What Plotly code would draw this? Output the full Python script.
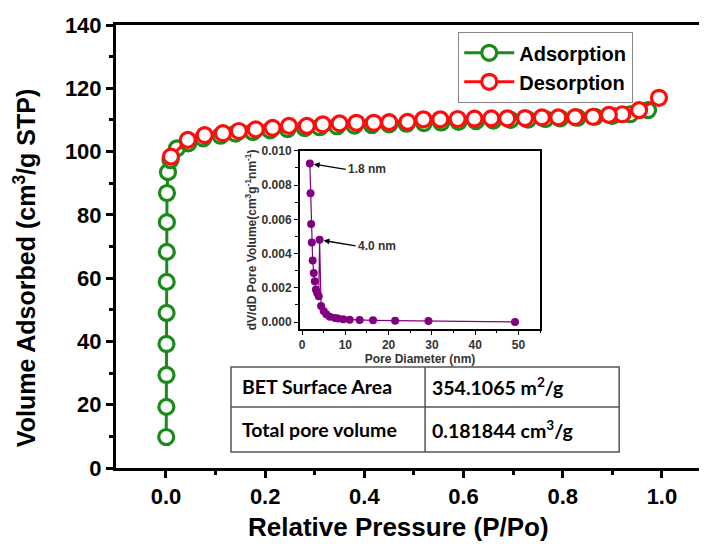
import plotly.graph_objects as go

# ---- main isotherm data ----
ads_x = [0.0005, 0.0008, 0.001, 0.001, 0.0012, 0.0014, 0.0016, 0.0018, 0.002, 0.004, 0.009,
         0.022, 0.045, 0.075, 0.11, 0.14, 0.175, 0.21, 0.245, 0.28, 0.31, 0.345, 0.38, 0.415,
         0.45, 0.485, 0.52, 0.555, 0.59, 0.625, 0.66, 0.695, 0.73, 0.765, 0.795, 0.83, 0.865,
         0.9, 0.936, 0.972]
ads_y = [9.8, 19.3, 29.4, 39.2, 49.0, 58.8, 68.3, 77.7, 86.9, 93.5, 97.3,
         101.0, 102.6, 104.2, 105.0, 105.7, 106.2, 106.7, 107.1, 107.4, 107.7, 108.0, 108.2, 108.4,
         108.6, 108.8, 109.0, 109.2, 109.4, 109.6, 109.8, 110.0, 110.1, 110.3, 110.5, 110.7, 111.0,
         111.3, 111.8, 113.1]

des_x = [0.994, 0.954, 0.92, 0.893, 0.861, 0.825, 0.791, 0.758, 0.724, 0.688, 0.656, 0.622,
         0.588, 0.553, 0.519, 0.487, 0.45, 0.419, 0.384, 0.35, 0.316, 0.284, 0.248, 0.215,
         0.181, 0.147, 0.115, 0.078, 0.044, 0.01]
des_y = [117.0, 113.1, 111.8, 111.6, 111.0, 110.9, 110.8, 110.8, 110.6, 110.5, 110.5, 110.4,
         110.3, 110.2, 110.2, 109.4, 109.3, 109.1, 109.1, 108.9, 108.6, 108.1, 108.1, 107.5,
         107.0, 106.5, 105.8, 105.2, 103.7, 98.4]

# ---- inset pore-size distribution ----
pore_d = [1.8, 1.95, 2.1, 2.25, 2.45, 2.7, 2.95, 3.2, 3.5, 3.85, 4.05, 4.4, 5.0, 5.6, 6.4,
          7.6, 8.3, 9.5, 11.0, 13.3, 16.4, 21.5, 29.2, 49.2]
pore_v = [0.00926, 0.00752, 0.00572, 0.00465, 0.00359, 0.00287, 0.00238, 0.0019, 0.0017,
          0.0015, 0.0048, 0.00093, 0.00064, 0.00045, 0.00031, 0.00023, 0.0002, 0.00016,
          0.00014, 0.00012, 0.0001, 0.00008, 0.00006, 0.00001]
peak_labels = ["1.8 nm", "4.0 nm"]
peak_x = [1.8, 4.05]
peak_y = [0.00926, 0.0048]

# ---- table ----
table_labels = ["BET Surface Area", "Total pore volume"]
table_values = ["354.1065 m<sup>2</sup>/g", "0.181844 cm<sup>3</sup>/g"]

GREEN = "rgb(26,138,26)"
RED = "rgb(255,12,12)"
PURPLE = "rgb(128,0,128)"
FAM = "Liberation Sans, Arial"
TICKF = dict(family=FAM, size=22, color="black", weight="bold")
XTITLEF = dict(family=FAM, size=26, color="black", weight="bold")
YTITLEF = dict(family=FAM, size=25, color="black", weight="bold")
INF = dict(family=FAM, size=12, color="#333", weight="bold")

fig = go.Figure()
fig.add_trace(go.Scatter(
    x=ads_x, y=ads_y, mode="lines+markers", name="Adsorption",
    line=dict(color=GREEN, width=3),
    marker=dict(symbol="circle", size=15, color="white", line=dict(color=GREEN, width=3.2)),
))
fig.add_trace(go.Scatter(
    x=des_x, y=des_y, mode="lines+markers", name="Desorption",
    line=dict(color=RED, width=3),
    marker=dict(symbol="circle", size=15, color="white", line=dict(color=RED, width=3.2)),
))
fig.add_trace(go.Scatter(
    x=pore_d, y=pore_v, mode="lines+markers", showlegend=False,
    xaxis="x2", yaxis="y2",
    line=dict(color=PURPLE, width=1.2),
    marker=dict(symbol="circle", size=8, color=PURPLE),
))

annotations = []
for lab, px, py in zip(peak_labels, peak_x, peak_y):
    annotations.append(dict(
        x=px, y=py, xref="x2", yref="y2", text=lab, showarrow=True,
        ax=36, ay=6, arrowhead=2, arrowsize=0.9, arrowwidth=1.3, arrowcolor="black",
        standoff=4, xanchor="left", font=INF,
    ))

# axis titles
annotations.append(dict(x=0.471, y=-0.133, xref="paper", yref="paper",
                        text="Relative Pressure (P/Po)", showarrow=False,
                        xanchor="center", yanchor="middle", font=XTITLEF))
annotations.append(dict(x=-0.152, y=0.451, xref="paper", yref="paper",
                        text="Volume Adsorbed (cm<sup>3</sup>/g STP)", showarrow=False,
                        textangle=-90, xanchor="center", yanchor="middle", font=YTITLEF))

# table geometry (paper coords)
tx0, tx1, tx2 = 0.192, 0.516, 0.840
ty0, ty1, ty2 = 0.228, 0.1377, 0.0361
shapes = [
    dict(type="rect", xref="paper", yref="paper", x0=tx0, x1=tx2, y0=ty2, y1=ty0,
         line=dict(color="#555", width=1.5), fillcolor="white", layer="above"),
    dict(type="line", xref="paper", yref="paper", x0=tx0, x1=tx2, y0=ty1, y1=ty1,
         line=dict(color="#555", width=1.5), layer="above"),
    dict(type="line", xref="paper", yref="paper", x0=tx1, x1=tx1, y0=ty2, y1=ty0,
         line=dict(color="#555", width=1.5), layer="above"),
]
TFONT = dict(family="Lato, Open Sans", size=19.5, color="black", weight="bold")
rows_y = [(ty0 + ty1) / 2, (ty1 + ty2) / 2]
for lab, val, ry in zip(table_labels, table_values, rows_y):
    annotations.append(dict(x=tx0 + 0.015, y=ry, xref="paper", yref="paper", text=lab,
                            showarrow=False, xanchor="left", yanchor="middle", font=TFONT))
    annotations.append(dict(x=tx1 + 0.009, y=ry, xref="paper", yref="paper", text=val,
                            showarrow=False, xanchor="left", yanchor="middle", font=TFONT))

fig.update_layout(
    width=707, height=544,
    margin=dict(l=108, r=0, t=17, b=84),
    paper_bgcolor="white", plot_bgcolor="white",
    showlegend=True,
    legend=dict(x=0.571, y=0.984, xanchor="left", yanchor="top",
                bordercolor="#888", borderwidth=1.2, bgcolor="white",
                font=dict(family=FAM, size=20, color="black", weight="bold"),
                tracegroupgap=0, itemwidth=50),
    xaxis=dict(
        automargin=False,
        range=[-0.1008, 1.107], tickmode="array", tickvals=[0, 0.2, 0.4, 0.6, 0.8, 1.0],
        ticktext=["0.0", "0.2", "0.4", "0.6", "0.8", "1.0"],
        showline=True, linecolor="black", linewidth=3, mirror=True,
        ticks="outside", ticklen=7, tickwidth=3, tickcolor="black",
        minor=dict(tickvals=[0.1, 0.3, 0.5, 0.7, 0.9], ticks="outside", ticklen=4, tickwidth=3, tickcolor="black"),
        showgrid=False, zeroline=False, tickfont=TICKF,
    ),
    yaxis=dict(
        automargin=False,
        range=[0, 140], dtick=20,
        showline=True, linecolor="black", linewidth=3, mirror=False,
        ticks="outside", ticklen=7, tickwidth=3, tickcolor="black",
        minor=dict(dtick=10, ticks="outside", ticklen=4, tickwidth=3, tickcolor="black"),
        showgrid=False, zeroline=False, tickfont=TICKF,
    ),
    xaxis2=dict(
        automargin=False,
        domain=[0.307, 0.708], anchor="y2", range=[-0.5, 55], dtick=10,
        showline=True, linecolor="black", linewidth=1.8, mirror=True,
        ticks="outside", ticklen=4, tickwidth=1.2, tickcolor="black",
        minor=dict(dtick=5, ticks="outside", ticklen=2.5, tickwidth=1.2, tickcolor="black"),
        showgrid=False, zeroline=False, tickfont=INF,
        title=dict(text="Pore Diameter (nm)", font=INF, standoff=2),
    ),
    yaxis2=dict(
        automargin=False,
        domain=[0.314, 0.716], anchor="x2", range=[-0.0004, 0.010], dtick=0.002,
        tickformat=".3f",
        showline=True, linecolor="black", linewidth=1.8, mirror=True,
        ticks="outside", ticklen=4, tickwidth=1.2, tickcolor="black",
        minor=dict(dtick=0.001, ticks="outside", ticklen=2.5, tickwidth=1.2, tickcolor="black"),
        showgrid=False, zeroline=False, tickfont=INF,
        title=dict(text="dV/dD Pore Volume(cm<sup>3</sup>g<sup>-1</sup>nm<sup>-1</sup>)",
                   font=INF, standoff=2),
    ),
    annotations=annotations,
    shapes=shapes,
)

fig.write_html("out.html")
